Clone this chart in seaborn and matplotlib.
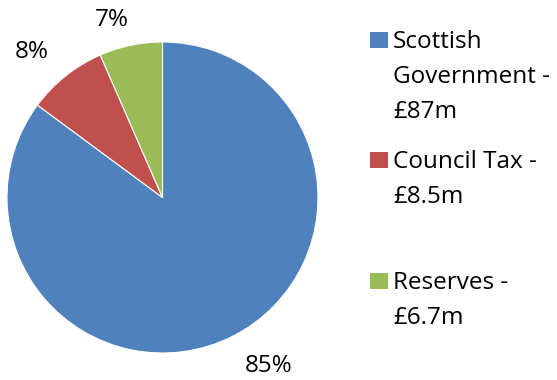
import matplotlib
matplotlib.use("Agg")
import matplotlib.pyplot as plt
from matplotlib.patches import Rectangle
import seaborn as sns

# Funding sources (£m)
sources = ["Scottish Government", "Council Tax", "Reserves"]
amounts = [87, 8.5, 6.7]
legend_labels = ["Scottish\nGovernment -\n£87m", "Council Tax -\n£8.5m", "Reserves -\n£6.7m"]
colors = ["#4F81BD", "#C0504D", "#9BBB59"]

sns.set_theme(style="white")
plt.rcParams["font.family"] = ["Open Sans", "DejaVu Sans"]

W, H = 557, 380
fig = plt.figure(figsize=(W / 100, H / 100), dpi=100)
fig.patch.set_facecolor("white")

cx, cy, r = 162.5, 197.5, 155.5
ax = fig.add_axes([(cx - r) / W, (H - cy - r) / H, 2 * r / W, 2 * r / H])

wedges, texts, autotexts = ax.pie(
    amounts,
    colors=colors,
    startangle=90,
    counterclock=False,
    autopct=lambda p: f"{p:.0f}%",
    pctdistance=1.2,
    wedgeprops=dict(edgecolor="white", linewidth=0.8),
    textprops=dict(fontsize=17.5, color="black"),
)
ax.set_xlim(-1, 1)
ax.set_ylim(-1, 1)
ax.set_aspect("equal")

# percentage label positions (pixel centres converted to pie units)
label_px = [(269, 366), (32, 52), (112, 20)]
for t, (px, py) in zip(autotexts, label_px):
    t.set_position(((px - cx) / r, (cy - py) / r))
    t.set_ha("center")
    t.set_va("center")

# legend: colour square plus wrapped label lines
first_baselines = [48, 168, 289]
line_step = 35
for lab, col, base in zip(legend_labels, colors, first_baselines):
    sq_top = base - 16
    fig.patches.append(Rectangle((370 / W, (H - sq_top - 16) / H), 18 / W, 16 / H,
                                 transform=fig.transFigure, facecolor=col,
                                 edgecolor="none", figure=fig))
    for i, line in enumerate(lab.split("\n")):
        fig.text(393 / W, (H - (base + i * line_step)) / H, line,
                 fontsize=17.5, ha="left", va="baseline", color="black")

fig.savefig("out.png", dpi=100, facecolor="white")
